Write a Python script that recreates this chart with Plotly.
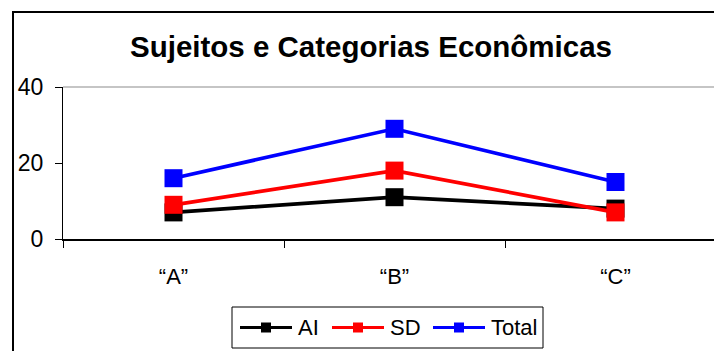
import plotly.graph_objects as go

# Data
categories = ["\u201cA\u201d", "\u201cB\u201d", "\u201cC\u201d"]
ai_values = [7, 11, 8]
sd_values = [9, 18, 7]
total_values = [16, 29, 15]
y_ticks = [0, 20, 40]

series = [
    ("AI", ai_values, "#000000"),
    ("SD", sd_values, "#FF0000"),
    ("Total", total_values, "#0000FF"),
]

# Canvas / plot-area geometry (pixels)
W, H = 714, 351
ML, MR, MT, MB = 63, 0, 87, 112
PW = W - ML - MR
PH = H - MT - MB
CAT_PX = 221  # width of one category slot
x_max = PW / CAT_PX
x_pos = [i + 0.5 for i in range(len(categories))]
boundaries = list(range(len(categories) + 1))

FONT = "Liberation Sans, Arial, sans-serif"

fig = go.Figure()
for name, vals, color in series:
    fig.add_trace(go.Scatter(
        x=x_pos, y=vals, name=name, mode="lines+markers",
        line=dict(color=color, width=3.7),
        marker=dict(symbol="square", size=18, color=color, line=dict(width=0)),
        showlegend=False,
    ))


def px_x(px):
    return (px - ML) / PW


def px_y(py):
    return (H - MB - py) / PH


shapes = [
    # plot-area top border (gray)
    dict(type="line", xref="paper", yref="paper", x0=0, x1=1, y0=1, y1=1,
         line=dict(color="#8c8c8c", width=1.2)),
    # outer chart frame (left and top edges)
    dict(type="line", xref="paper", yref="paper",
         x0=px_x(13), x1=px_x(13), y0=px_y(12), y1=px_y(H + 2),
         line=dict(color="#000000", width=2)),
    dict(type="line", xref="paper", yref="paper",
         x0=px_x(12), x1=px_x(W + 2), y0=px_y(12), y1=px_y(12),
         line=dict(color="#000000", width=2)),
]
annotations = []

# Legend box with line+marker keys, laid out in pixels
LEG_LEFT, LEG_RIGHT, LEG_TOP, LEG_BOTTOM = 232, 543, 307, 348
leg_mid = (LEG_TOP + LEG_BOTTOM) / 2
shapes.append(dict(type="rect", xref="paper", yref="paper",
                   x0=px_x(LEG_LEFT), x1=px_x(LEG_RIGHT),
                   y0=px_y(LEG_BOTTOM), y1=px_y(LEG_TOP),
                   line=dict(color="black", width=1), fillcolor="white", layer="above"))
key_starts = [240, 332, 433]
KEY_LEN, MK = 52, 10
for (name, _, color), kx in zip(series, key_starts):
    shapes.append(dict(type="line", xref="paper", yref="paper",
                       x0=px_x(kx), x1=px_x(kx + KEY_LEN),
                       y0=px_y(leg_mid), y1=px_y(leg_mid),
                       line=dict(color=color, width=3), layer="above"))
    cx = kx + KEY_LEN / 2
    shapes.append(dict(type="rect", xref="paper", yref="paper",
                       x0=px_x(cx - MK / 2), x1=px_x(cx + MK / 2),
                       y0=px_y(leg_mid + MK / 2), y1=px_y(leg_mid - MK / 2),
                       line=dict(width=0), fillcolor=color, layer="above"))
    annotations.append(dict(text=name, xref="paper", yref="paper",
                            x=px_x(kx + KEY_LEN + 4), y=px_y(leg_mid),
                            xanchor="left", yanchor="middle", showarrow=False,
                            font=dict(family=FONT, size=22, color="black")))

fig.update_layout(
    width=W, height=H,
    margin=dict(l=ML, r=MR, t=MT, b=MB, pad=0),
    paper_bgcolor="white", plot_bgcolor="white",
    font=dict(family=FONT, color="black"),
    title=dict(text="Sujeitos e Categorias Econômicas",
               font=dict(family=FONT, size=29.5, color="black", weight="bold"),
               x=371 / W, xanchor="center", xref="container",
               y=1 - 47 / H, yanchor="middle", yref="container"),
    xaxis=dict(range=[0, x_max], tickmode="array", tickvals=x_pos,
               ticktext=categories, ticks="", showgrid=False, zeroline=False,
               showline=True, linecolor="black", linewidth=1.5,
               tickfont=dict(family=FONT, size=22, color="black"),
               ticklabelstandoff=17,
               minor=dict(tickmode="array", tickvals=boundaries, ticks="outside",
                          ticklen=7, tickwidth=1, tickcolor="black", showgrid=False)),
    xaxis2=dict(range=[0, x_max], overlaying="x", anchor="y", side="bottom",
                tickmode="array", tickvals=boundaries, ticks="inside", ticklen=7,
                tickwidth=1, tickcolor="black", showticklabels=False,
                showgrid=False, zeroline=False, showline=False),
    yaxis=dict(range=[0, 40], tickmode="array", tickvals=y_ticks,
               ticks="outside", ticklen=7, tickwidth=1, tickcolor="black",
               showgrid=False, zeroline=False, showline=True,
               linecolor="black", linewidth=1,
               tickfont=dict(family=FONT, size=23, color="black"),
               ticklabelstandoff=7),
    showlegend=False,
    shapes=shapes,
    annotations=annotations,
)

fig.write_html("out.html")
